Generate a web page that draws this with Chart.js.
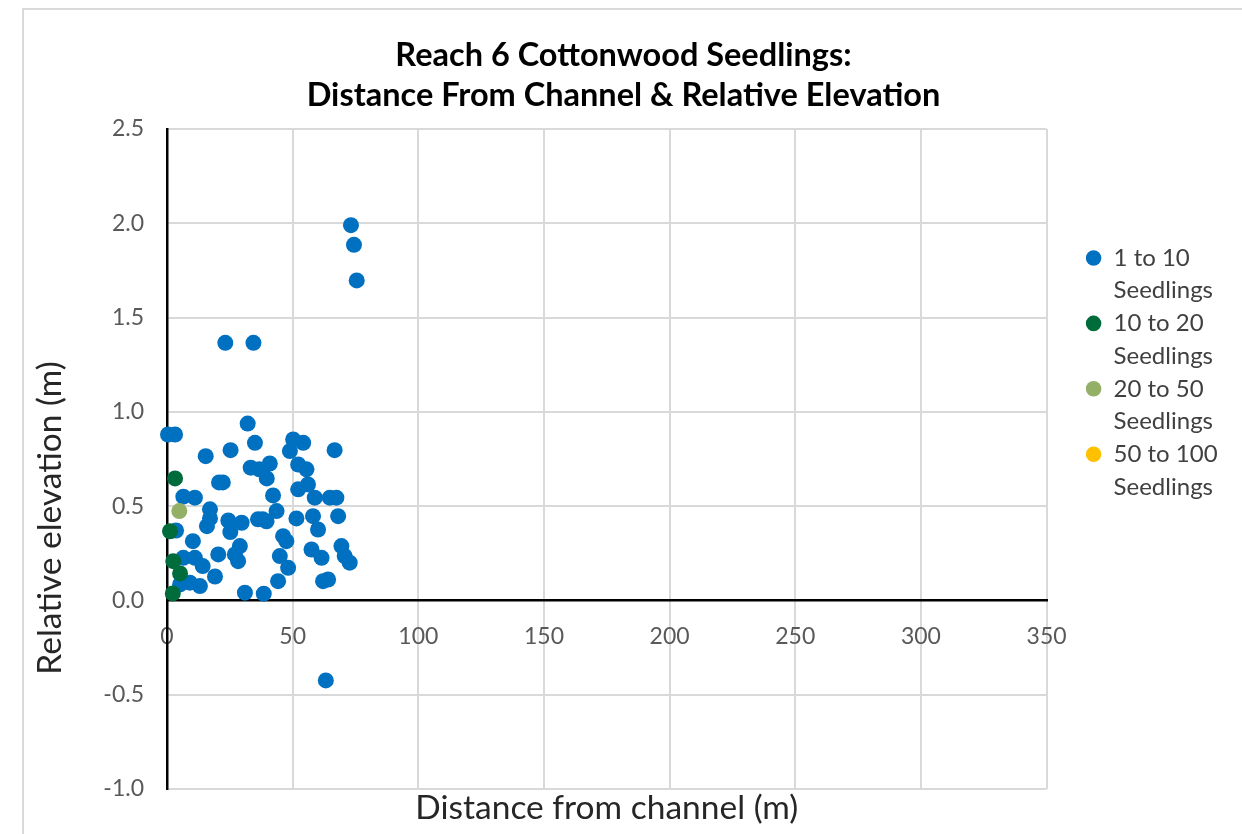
<!DOCTYPE html>
<html>
<head>
<meta charset="utf-8">
<title>Reach 6 Cottonwood Seedlings</title>
<script src="https://cdn.jsdelivr.net/npm/chart.js"></script>
<style>
  html, body { margin: 0; padding: 0; overflow: hidden; background: #fff; }
  #frame { position: absolute; left: 22px; top: 8px; width: 1234px; height: 840px; border: 2px solid #d9d9d9; }
  canvas { display: block; }
</style>
</head>
<body>
<div id="frame"><canvas id="seedChart"></canvas></div>
<script>
// values
const chartTitle = ['Reach 6 Cottonwood Seedlings:', 'Distance From Channel & Relative Elevation'];
const xTitle = 'Distance from channel (m)';
const yTitle = 'Relative elevation (m)';
const seriesNames = ['1 to 10 Seedlings', '10 to 20 Seedlings', '20 to 50 Seedlings', '50 to 100 Seedlings'];
const seriesColors = ['#0070c0', '#006c3b', '#93b066', '#ffc000'];

const blueX = [73.2, 74.4, 75.5, 23.2, 34.4, 63.2, 0.4, 3.2, 32.1, 35.0, 15.4, 25.3, 20.7, 22.2, 33.3, 36.7, 40.9, 39.7,
  6.5, 11.1, 17.1, 17.1, 15.9, 24.4, 29.7, 36.2, 38.1, 3.6, 25.2, 10.3, 29.0, 20.4, 27.0, 28.3, 6.5, 11.1, 14.2, 19.1,
  13.1, 5.2, 9.1, 31.0, 38.5, 50.2, 54.2, 48.9, 66.7, 52.2, 55.5, 56.1, 52.2, 42.2, 58.8, 64.8, 67.4, 43.6, 39.6, 51.5,
  58.1, 68.1, 60.1, 46.2, 47.5, 69.4, 57.5, 44.9, 61.5, 70.7, 72.7, 48.2, 44.2, 62.1, 64.1];
const blueY = [1.99, 1.886, 1.697, 1.366, 1.366, -0.424, 0.88, 0.88, 0.938, 0.836, 0.765, 0.797, 0.626, 0.626, 0.704, 0.695, 0.726, 0.647,
  0.55, 0.545, 0.483, 0.435, 0.394, 0.424, 0.412, 0.43, 0.43, 0.371, 0.363, 0.314, 0.288, 0.244, 0.244, 0.208, 0.226, 0.226, 0.182, 0.127,
  0.076, 0.085, 0.094, 0.041, 0.036, 0.854, 0.836, 0.792, 0.797, 0.721, 0.695, 0.615, 0.589, 0.557, 0.545, 0.545, 0.545, 0.474, 0.42, 0.435,
  0.447, 0.447, 0.376, 0.341, 0.314, 0.288, 0.27, 0.235, 0.226, 0.235, 0.2, 0.173, 0.102, 0.102, 0.111];
const darkGreenX = [3.2, 1.2, 2.5, 5.2, 2.3];
const darkGreenY = [0.647, 0.367, 0.208, 0.143, 0.037];
const lightGreenX = [4.9];
const lightGreenY = [0.474];
const yellowX = [];
const yellowY = [];

const xMin = 0, xMax = 350, xStep = 50;
const yMin = -1, yMax = 2.5, yStep = 0.5;

const FONT = 'Lato';

function toPoints(xs, ys) {
  return xs.map((x, i) => ({ x: x, y: ys[i] }));
}

const seriesData = [
  toPoints(blueX, blueY),
  toPoints(darkGreenX, darkGreenY),
  toPoints(lightGreenX, lightGreenY),
  toPoints(yellowX, yellowY)
];

// axis titles drawn by hand, Excel puts them where the chart author dragged them
const axisTitles = {
  id: 'axisTitles',
  afterDraw(chart) {
    const { ctx, chartArea } = chart;
    ctx.save();
    ctx.fillStyle = '#262626';
    ctx.font = '33.5px ' + FONT;
    ctx.textAlign = 'center';
    ctx.textBaseline = 'middle';
    ctx.fillText(xTitle, (chartArea.left + chartArea.right) / 2, chartArea.bottom + 19);
    ctx.translate(26, (chartArea.top + chartArea.bottom) / 2 + 59);
    ctx.rotate(-Math.PI / 2);
    ctx.fillText(yTitle, 0, 0);
    ctx.restore();
  }
};

const ctx = document.getElementById('seedChart').getContext('2d');
new Chart(ctx, {
  type: 'scatter',
  data: {
    datasets: seriesData.map((pts, i) => ({
      label: seriesNames[i],
      data: pts,
      backgroundColor: seriesColors[i],
      borderColor: seriesColors[i],
      borderWidth: 0,
      pointRadius: 8,
      pointHoverRadius: 8,
      clip: false,
      order: seriesData.length - i
    }))
  },
  options: {
    responsive: true,
    maintainAspectRatio: false,
    animation: false,
    layout: { padding: { left: 0, right: 35, top: 0, bottom: 61 } },
    scales: {
      x: {
        type: 'linear',
        position: { y: 0 },
        min: xMin,
        max: xMax,
        ticks: { stepSize: xStep, padding: 22, color: '#595959', font: { family: FONT, size: 23 } },
        grid: { color: '#d9d9d9', lineWidth: 2, drawTicks: false },
        border: { color: '#000', width: 2.5 }
      },
      y: {
        type: 'linear',
        min: yMin,
        max: yMax,
        ticks: {
          stepSize: yStep,
          padding: 23,
          color: '#595959',
          font: { family: FONT, size: 23 },
          callback: v => Number(v).toFixed(1)
        },
        grid: { color: '#d9d9d9', lineWidth: 2, drawTicks: false },
        border: { color: '#000', width: 2.5 },
        afterFit(s) { s.width = 143; }
      },
      // empty right axis, only keeps the legend away from the plot
      gap: {
        type: 'linear',
        position: 'right',
        display: true,
        grid: { display: false },
        border: { display: false },
        ticks: { display: false },
        afterFit(s) { s.width = 39; }
      }
    },
    plugins: {
      title: {
        display: true,
        text: chartTitle,
        color: '#000',
        font: { family: FONT, size: 32.5, weight: 'bold', lineHeight: '40px' },
        padding: { top: 26, bottom: 13 }
      },
      legend: {
        position: 'right',
        align: 'start',
        fullSize: false,
        title: { display: true, text: ' ', font: { size: 10, lineHeight: 1 }, padding: { top: 0, bottom: 107 } },
        labels: {
          usePointStyle: true,
          pointStyle: 'circle',
          boxWidth: 16,
          boxHeight: 11,
          padding: 0,
          color: '#404040',
          font: { family: FONT, size: 24, lineHeight: '32.7px' },
          sort: (a, b) => a.datasetIndex - b.datasetIndex,
          generateLabels(chart) {
            const items = Chart.defaults.plugins.legend.labels.generateLabels(chart);
            items.forEach(it => { it.text = it.text.split(/ (?=Seedlings)/); });
            return items;
          }
        }
      },
      tooltip: { enabled: false }
    }
  },
  plugins: [axisTitles]
});
</script>
</body>
</html>
